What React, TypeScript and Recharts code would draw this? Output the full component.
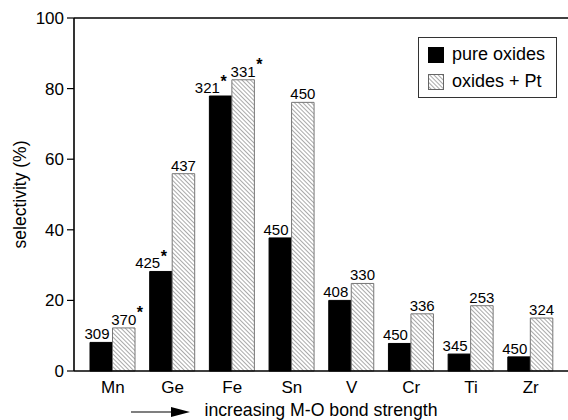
import React from 'react';
import { BarChart, Bar, XAxis, YAxis, LabelList, ReferenceLine, Legend } from 'recharts';

const METALS = ['Mn', 'Ge', 'Fe', 'Sn', 'V', 'Cr', 'Ti', 'Zr'];
const PURE_OXIDES = [8.1, 28.2, 77.9, 37.7, 20, 7.8, 4.8, 4.0];
const OXIDES_PT = [12.2, 55.9, 82.5, 76.1, 24.8, 16.2, 18.5, 15.0];
const PURE_TEMPS = [309, 425, 321, 450, 408, 450, 345, 450];
const PT_TEMPS = [370, 437, 331, 450, 330, 336, 253, 324];
const PURE_STARRED = [false, true, true, false, false, false, false, false];
const PT_STARRED = [true, false, true, false, false, false, false, false];
const Y_TICKS = [0, 20, 40, 60, 80, 100];

const FONT = '"Liberation Sans", Arial, Helvetica, sans-serif';

const data = METALS.map((metal, i) => ({
  metal,
  pure: PURE_OXIDES[i],
  pt: OXIDES_PT[i],
  pureT: PURE_TEMPS[i],
  ptT: PT_TEMPS[i],
}));

// temperature label above a bar, with an optional asterisk
const tempLabel = (anchor: 'end' | 'middle', starred: boolean[]) => (props: any) => {
  const { x, y, width, value, index } = props;
  const star = starred[index];
  const base = y - 3;
  let tx: number;
  let textEnd: number;
  if (anchor === 'end') {
    tx = x + width - (star ? 12 : 3);
    textEnd = tx;
  } else {
    tx = x + width / 2;
    textEnd = tx + 12.5;
  }
  return (
    <g>
      <text x={tx} y={base} textAnchor={anchor} fontSize={15} fill="#000" fontFamily={FONT}>
        {value}
      </text>
      {star && (
        <text x={textEnd + 0.5} y={base - 6.5} fontSize={16} fontWeight="bold" fill="#000" fontFamily={FONT}>
          *
        </text>
      )}
    </g>
  );
};

const Hatch = ({ id }: { id: string }) => (
  <pattern id={id} patternUnits="userSpaceOnUse" width={3} height={3} patternTransform="rotate(-45)">
    <rect width={3} height={3} fill="#fff" />
    <line x1={0} y1={0} x2={0} y2={3} stroke="#555" strokeWidth={1} />
  </pattern>
);

const LegendBox = () => (
  <div
    style={{
      position: 'relative',
      width: 139,
      height: 61,
      boxSizing: 'border-box',
      border: '1px solid #333',
      background: '#fff',
      fontFamily: FONT,
      fontSize: 18,
      color: '#000',
    }}
  >
    <div style={{ position: 'absolute', left: 9, top: 9, width: 15.5, height: 15.5, background: '#000' }} />
    <div style={{ position: 'absolute', left: 33, top: 6, lineHeight: '20px' }}>pure oxides</div>
    <svg style={{ position: 'absolute', left: 9, top: 36 }} width={16} height={16}>
      <defs>
        <Hatch id="hatch-legend" />
      </defs>
      <rect x={0.5} y={0.5} width={15} height={15} fill="url(#hatch-legend)" stroke="#666" strokeWidth={1} />
    </svg>
    <div style={{ position: 'absolute', left: 33, top: 33, lineHeight: '20px' }}>oxides + Pt</div>
  </div>
);

const XTitle = (props: any) => {
  const { viewBox } = props;
  const cx = viewBox.x + viewBox.width / 2;
  const y = viewBox.y + 45;
  return (
    <g>
      <line x1={cx - 190} y1={y - 4} x2={cx - 150} y2={y - 4} stroke="#000" strokeWidth={1.2} />
      <polygon points={`${cx - 131},${y - 4} ${cx - 150},${y - 9} ${cx - 150},${y + 1}`} fill="#000" />
      <text x={cx} y={y} textAnchor="middle" fontSize={17.7} fill="#000" fontFamily={FONT}>
        increasing M-O bond strength
      </text>
    </g>
  );
};

const YTitle = (props: any) => {
  const { viewBox } = props;
  const y = viewBox.y + viewBox.height / 2;
  const x = 25.5;
  return (
    <text
      x={x}
      y={y}
      textAnchor="middle"
      fontSize={17.5}
      fill="#000"
      fontFamily={FONT}
      transform={`rotate(-90, ${x}, ${y})`}
    >
      selectivity (%)
    </text>
  );
};

export default function App() {
  return (
    <div style={{ position: 'absolute', left: 0, top: 0, background: '#fff' }}>
      <BarChart
        width={568}
        height={420}
        data={data}
        margin={{ top: 18, right: 0, bottom: 0, left: 0 }}
        barGap={0}
        barSize={22.5}
        style={{ fontFamily: FONT }}
      >
        <defs>
          <Hatch id="hatch-bar" />
        </defs>
        <XAxis
          dataKey="metal"
          height={49}
          padding={{ left: 9, right: 7.5 }}
          tickLine={false}
          tickSize={0}
          tickMargin={10}
          axisLine={{ stroke: '#000', strokeWidth: 1.6 }}
          tick={{ fontSize: 17, fill: '#000' }}
          label={{ content: XTitle }}
        />
        <YAxis
          width={74}
          domain={[0, 100]}
          ticks={Y_TICKS}
          tickSize={7}
          tickMargin={3}
          axisLine={{ stroke: '#000', strokeWidth: 1.6 }}
          tickLine={{ stroke: '#000', strokeWidth: 1.2 }}
          tick={{ fontSize: 17, fill: '#000' }}
          label={{ content: YTitle }}
        />
        <ReferenceLine y={100} stroke="#000" strokeWidth={1.6} />
        <Legend
          layout="vertical"
          align="center"
          verticalAlign="middle"
          content={() => <LegendBox />}
          wrapperStyle={{ left: 418, top: 37, width: 139, height: 61 }}
        />
        <Bar dataKey="pure" name="pure oxides" fill="#000" stroke="#000" strokeWidth={1} isAnimationActive={false}>
          <LabelList dataKey="pureT" content={tempLabel('end', PURE_STARRED)} />
        </Bar>
        <Bar dataKey="pt" name="oxides + Pt" fill="url(#hatch-bar)" stroke="#777" strokeWidth={1} isAnimationActive={false}>
          <LabelList dataKey="ptT" content={tempLabel('middle', PT_STARRED)} />
        </Bar>
      </BarChart>
    </div>
  );
}
